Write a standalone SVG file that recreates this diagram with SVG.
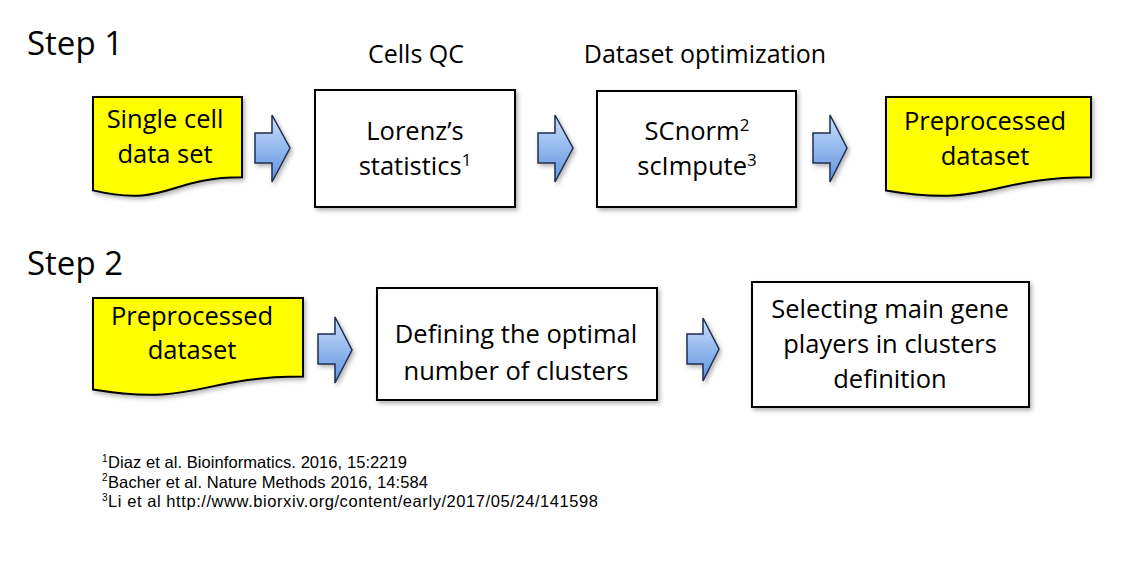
<svg xmlns="http://www.w3.org/2000/svg" width="1140" height="562" viewBox="0 0 1140 562">
<defs>
  <style>
    text { font-family: "Open Sans", "Liberation Sans", sans-serif; fill: #000; }
    .step { font-size: 33px; }
    .hdr { font-size: 25px; text-anchor: middle; }
    .lbl { font-size: 25.5px; text-anchor: middle; }
    .fn { font-family: "Liberation Sans", sans-serif; font-size: 16.5px; }
    .sup { font-family: "Liberation Sans", sans-serif; font-size: 10px; }
    .doc { fill: #ffff00; stroke: #000; stroke-width: 2; filter: url(#sh); }
    .box { fill: #fff; stroke: #000; stroke-width: 2; filter: url(#sh); }
    .arr { fill: url(#blue); stroke: #1f2f4f; stroke-width: 1.5; filter: url(#sh); }
  </style>
  <linearGradient id="blue" x1="0" y1="0" x2="0" y2="1">
    <stop offset="0" stop-color="#c9defa"/>
    <stop offset="1" stop-color="#5e93e0"/>
  </linearGradient>
  <filter id="sh" x="-10%" y="-10%" width="130%" height="130%">
    <feDropShadow dx="2" dy="2.5" stdDeviation="2" flood-color="#000" flood-opacity="0.3"/>
  </filter>
</defs>

<text class="step" x="27" y="55">Step 1</text>
<text class="step" x="27" y="275">Step 2</text>
<text class="hdr" x="416" y="63">Cells QC</text>
<text class="hdr" x="705" y="63">Dataset optimization</text>

<g id="n-single">
  <path class="doc" d="M93,97 H242 V177.2 C167.5,177.2 167.5,207.8 93,190.4 Z"/>
  <text class="lbl" x="165" y="128">Single cell</text>
  <text class="lbl" x="165" y="163">data set</text>
</g>
<g id="n-lorenz">
  <rect class="box" x="315" y="90" width="200" height="117"/>
  <text class="lbl" x="415" y="140">Lorenz’s</text>
  <text class="lbl" x="415" y="175">statistics<tspan font-size="17" dy="-9">1</tspan></text>
</g>
<g id="n-scnorm">
  <rect class="box" x="597" y="91" width="199" height="116"/>
  <text class="lbl" x="697" y="140">SCnorm<tspan font-size="17" dy="-9">2</tspan></text>
  <text class="lbl" x="697" y="175">scImpute<tspan font-size="17" dy="-9">3</tspan></text>
</g>
<g id="n-pre1">
  <path class="doc" d="M886,97 H1091 V177.2 C988.5,177.2 988.5,207.8 886,190.4 Z"/>
  <text class="lbl" x="985" y="130">Preprocessed</text>
  <text class="lbl" x="985" y="165">dataset</text>
</g>
<g id="n-pre2">
  <path class="doc" d="M93,298 H303 V376.6 C198,376.6 198,406.6 93,389.5 Z"/>
  <text class="lbl" x="192" y="325">Preprocessed</text>
  <text class="lbl" x="192" y="359">dataset</text>
</g>
<g id="n-defining">
  <rect class="box" x="377" y="288" width="280" height="112"/>
  <text class="lbl" x="516" y="343">Defining the optimal</text>
  <text class="lbl" x="516" y="380">number of clusters</text>
</g>
<g id="n-selecting">
  <rect class="box" x="752" y="282" width="277" height="125"/>
  <text class="lbl" x="890" y="318">Selecting main gene</text>
  <text class="lbl" x="890" y="353">players in clusters</text>
  <text class="lbl" x="890" y="388">definition</text>
</g>

<g id="connectors">
  <path class="arr" d="M255,133 H272 V115 L290,148 L272,182 V163 H255 Z"/>
  <path class="arr" d="M538,133 H555 V115 L573,148 L555,182 V163 H538 Z"/>
  <path class="arr" d="M813,133 H830 V115 L847,148 L830,182 V163 H813 Z"/>
  <path class="arr" d="M318,334 H335 V317 L352,350 L335,383 V364 H318 Z"/>
  <path class="arr" d="M687,334 H703 V318 L719,349 L703,381 V364 H687 Z"/>
</g>

<g id="footnotes">
  <text class="sup" x="102" y="462">1</text>
  <text class="fn" x="108" y="468" textLength="299" lengthAdjust="spacing">Diaz et al. Bioinformatics. 2016, 15:2219</text>
  <text class="sup" x="102" y="481">2</text>
  <text class="fn" x="108" y="487.5" textLength="320" lengthAdjust="spacing">Bacher et al. Nature Methods 2016, 14:584</text>
  <text class="sup" x="102" y="501">3</text>
  <text class="fn" x="108" y="507" textLength="490" lengthAdjust="spacing">Li et al http://www.biorxiv.org/content/early/2017/05/24/141598</text>
</g>
</svg>
